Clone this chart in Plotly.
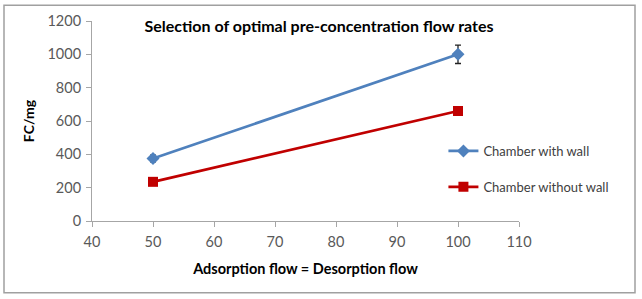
import plotly.graph_objects as go

flow = [50, 100]
with_wall = [375, 1000]
with_wall_err = [20, 55]
without_wall = [235, 660]
without_wall_err = [18, 25]

series_names = ["Chamber with wall", "Chamber without wall"]
x_ticks = [40, 50, 60, 70, 80, 90, 100, 110]
y_ticks = [0, 200, 400, 600, 800, 1000, 1200]

FONT = "Lato, 'Open Sans', sans-serif"

fig = go.Figure()
fig.add_trace(go.Scatter(
    x=flow, y=with_wall, name=series_names[0], mode="lines+markers",
    line=dict(color="#4F81BD", width=2.7),
    marker=dict(symbol="diamond", size=10, color="#4F81BD"),
    error_y=dict(type="data", array=with_wall_err, visible=True,
                 color="#222222", thickness=1.3, width=3),
    legendgroup="a",
))
fig.add_trace(go.Scatter(
    x=flow, y=without_wall, name=series_names[1], mode="lines+markers",
    line=dict(color="#C00000", width=2.7),
    marker=dict(symbol="square", size=10, color="#C00000"),
    error_y=dict(type="data", array=without_wall_err, visible=True,
                 color="#222222", thickness=1.3, width=3),
    legendgroup="b",
))

axis_common = dict(
    showgrid=False, zeroline=False, showline=True, linecolor="#A6A6A6",
    linewidth=1, ticks="outside", tickcolor="#A6A6A6", ticklen=5,
    tickfont=dict(family=FONT, size=14.5, color="#595959"),
)

fig.update_layout(
    width=642, height=299,
    margin=dict(l=92, r=123, t=19, b=78),
    paper_bgcolor="white", plot_bgcolor="white",
    title=dict(text="<b>Selection of optimal pre-concentration flow rates</b>",
               x=319 / 642, xanchor="center", y=1 - 26 / 299, yanchor="middle",
               font=dict(family=FONT, size=16, color="black")),
    xaxis=dict(range=[40, 110], tickvals=x_ticks, ticklabelstandoff=3, **axis_common,
               title=dict(text="<b>Adsorption flow = Desorption flow</b>",
                          font=dict(family=FONT, size=14.5, color="black"),
                          standoff=14)),
    yaxis=dict(range=[0, 1200], tickvals=y_ticks, ticklabelstandoff=2, **axis_common,
               title=dict(text="<b>FC/mg</b>",
                          font=dict(family=FONT, size=14, color="black"),
                          standoff=9)),
    legend=dict(x=0.823, xanchor="left", y=0.26, yanchor="middle",
                font=dict(family=FONT, size=13, color="#404040"),
                traceorder="grouped", tracegroupgap=16,
                bgcolor="rgba(0,0,0,0)"),
    showlegend=True,
)

fig.add_shape(type="rect", xref="paper", yref="paper",
              x0=-88 / 427, x1=(635 - 92) / 427,
              y0=(220.7 - 293) / 201.7, y1=(220.7 - 3) / 201.7,
              line=dict(color="#A0A0A0", width=1.5), layer="below")

fig.write_html("out.html")
